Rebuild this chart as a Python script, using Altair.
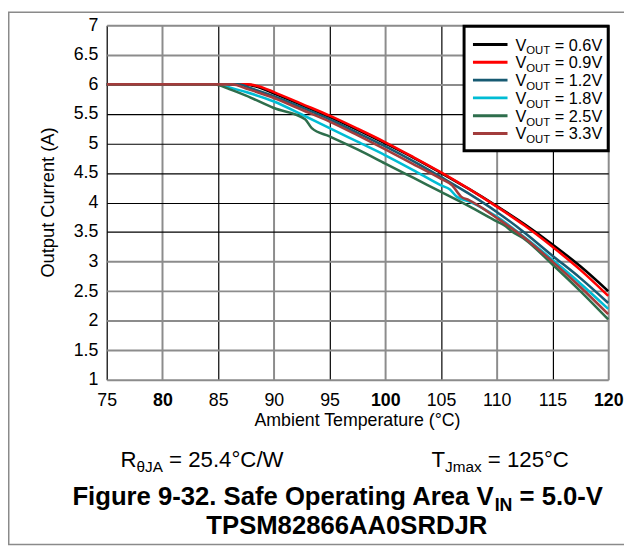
import altair as alt
import pandas as pd

FONT = "Liberation Sans, Arial, sans-serif"

# ---------------- data ----------------
series_labels = ["0.6V", "0.9V", "1.2V", "1.8V", "2.5V", "3.3V"]
series_colors = ["#000000", "#ff0000", "#175a72", "#00bcd4", "#2e6e4c", "#a23c3c"]

temp_06 = [75, 87.4, 88.5, 90, 92.5, 95, 97.5, 100, 102.5, 105, 107.5, 110, 112.5, 115, 117.5, 120]
cur_06 = [6.0, 6.0, 5.96, 5.85, 5.65, 5.45, 5.23, 5.0, 4.76, 4.5, 4.23, 3.94, 3.63, 3.29, 2.92, 2.5]

temp_09 = [75, 87.6, 88.6, 90, 92.5, 95, 97.5, 100, 102.5, 105, 107.5, 110, 112.5, 115, 117.5, 120]
cur_09 = [6.0, 6.0, 5.97, 5.87, 5.67, 5.47, 5.25, 5.02, 4.77, 4.51, 4.23, 3.93, 3.61, 3.25, 2.86, 2.42]

temp_12 = [75, 86.8, 88, 90, 92.5, 95, 97.5, 100, 102.5, 105, 107.5, 110, 112.5, 115, 117.5, 120]
cur_12 = [6.0, 6.0, 5.93, 5.8, 5.61, 5.41, 5.18, 4.95, 4.7, 4.43, 4.15, 3.84, 3.49, 3.1, 2.72, 2.3]

temp_18 = [75, 85, 86, 87.5, 90, 92.5, 95, 97.5, 100, 102.5, 105, 105.8, 106.4, 107.5, 110, 112.5, 115, 117.5, 120]
cur_18 = [6.0, 6.0, 5.95, 5.87, 5.71, 5.49, 5.26, 5.03, 4.8, 4.55, 4.29, 4.22, 4.1, 4.02, 3.76, 3.41, 3.03, 2.63, 2.2]

temp_25 = [75, 84.7, 86, 87.5, 90, 92.8, 93.4, 95, 97.5, 100, 102.5, 105, 107.5, 110, 110.8, 111.3, 112.5, 115, 117.5, 120]
cur_25 = [6.0, 6.0, 5.92, 5.81, 5.6, 5.41, 5.26, 5.12, 4.9, 4.66, 4.42, 4.18, 3.94, 3.68, 3.6, 3.52, 3.38, 2.95, 2.5, 2.02]

temp_33 = [75, 86.3, 87.5, 90, 92.5, 95, 97.5, 100, 102.5, 105, 106.0, 106.8, 107.5, 110, 112.5, 115, 117.5, 120]
cur_33 = [6.0, 6.0, 5.93, 5.77, 5.57, 5.37, 5.14, 4.9, 4.65, 4.4, 4.29, 4.1, 4.04, 3.74, 3.4, 3.0, 2.57, 2.11]

x_ticks = [75, 80, 85, 90, 95, 100, 105, 110, 115, 120]
y_ticks = [1, 1.5, 2, 2.5, 3, 3.5, 4, 4.5, 5, 5.5, 6, 6.5, 7]

temps = [temp_06, temp_09, temp_12, temp_18, temp_25, temp_33]
currents = [cur_06, cur_09, cur_12, cur_18, cur_25, cur_33]

# ---------------- layout helpers ----------------
LEFT, TOP, RIGHT, BOTTOM = 108, 22, 616, 381  # page position of plot area
W, H = RIGHT - LEFT, BOTTOM - TOP


def P(xpage):
    return xpage - LEFT


def Q(ypage):
    return ypage - TOP


REG = {' ': 278, '=': 584, '.': 278, '°': 400, 'C': 722, '/': 278, 'W': 944, 'V': 667,
       'O': 778, 'U': 722, 'T': 611, 'R': 722, 'θ': 556, 'J': 500, 'A': 667, 'm': 833,
       'a': 556, 'x': 500, '-': 333}
BOLD = {'F': 611, 'i': 278, 'g': 611, 'u': 611, 'r': 389, 'e': 556, ' ': 278, '-': 333,
        '.': 278, 'S': 667, 'a': 556, 'f': 333, 'O': 778, 'p': 611, 't': 333, 'n': 611,
        'A': 722, 'V': 667, 'I': 278, 'N': 722, '=': 584}


def tw(s, size, bold=False):
    table = BOLD if bold else REG
    return sum((556 if c.isdigit() else table.get(c, 556)) for c in s) * size / 1000.0


one = pd.DataFrame({"k": [0]})


def rich(segs, x0, y0, bold=False, center=False):
    total = sum(tw(t, s, bold) for t, s, _ in segs)
    x = x0 - total / 2 if center else x0
    out = []
    for text, size, dy in segs:
        if text.startswith(" "):
            x += tw(" ", size, bold)
            text = text[1:]
        out.append(
            alt.Chart(one).mark_text(
                text=text, font=FONT, fontSize=size,
                fontWeight="bold" if bold else "normal",
                align="left", baseline="alphabetic", color="black"
            ).encode(x=alt.value(x), y=alt.value(y0 + dy))
        )
        x += tw(text, size, bold)
    return out


# ---------------- encodings ----------------
x_enc = alt.X(
    "t:Q",
    scale=alt.Scale(domain=[75, 120], nice=False, zero=False),
    axis=alt.Axis(
        values=x_ticks, title=None, ticks=False, domain=False, grid=True,
        gridColor={"condition": {"test": "datum.value % 10 === 0", "value": "#8c8c8c"}, "value": "#000000"},
        gridWidth={"condition": {"test": "datum.value % 10 === 0", "value": 2}, "value": 1.2},
        labelFont=FONT, labelFontSize=18, labelColor="black", labelPadding=12,
        labelFontWeight={"condition": {"test": "datum.value % 20 === 0", "value": "bold"}, "value": "normal"},
        labelFlush=False, labelOverlap=False,
    ),
)
y_enc = alt.Y(
    "i:Q",
    scale=alt.Scale(domain=[1, 7], nice=False, zero=False),
    axis=alt.Axis(
        values=y_ticks, title=None, ticks=False, domain=False, grid=True, format=".1~f",
        gridColor={"condition": {"test": "datum.value >= 6 || datum.value <= 3", "value": "#8c8c8c"}, "value": "#000000"},
        gridWidth={"condition": {"test": "datum.value >= 6 || datum.value <= 3", "value": 2}, "value": 1.2},
        labelFont=FONT, labelFontSize=18, labelColor="black", labelPadding=9,
        labelFlush=False, labelOverlap=False,
    ),
)

layers = []

# outer figure frame
layers.append(
    alt.Chart(one).mark_rect(fill=None, stroke="#8a8a8a", strokeWidth=1.5).encode(
        x=alt.value(P(8.75)), x2=alt.value(P(640)), y=alt.value(Q(8.75)), y2=alt.value(Q(548))
    )
)

# curves
for lab, col, ts, cs in zip(series_labels, series_colors, temps, currents):
    df = pd.DataFrame({"t": ts, "i": cs, "s": lab})
    layers.append(
        alt.Chart(df).mark_line(color=col, strokeWidth=2.6, interpolate="monotone").encode(
            x=x_enc, y=y_enc
        )
    )

# legend box
layers.append(
    alt.Chart(one).mark_rect(fill="white", stroke="black", strokeWidth=3).encode(
        x=alt.value(P(470)), x2=alt.value(P(RIGHT)), y=alt.value(Q(23)), y2=alt.value(Q(149))
    )
)
for k, (lab, col) in enumerate(zip(series_labels, series_colors)):
    yrow = Q(41.5 + 18.0 * k)
    layers.append(
        alt.Chart(one).mark_rule(color=col, strokeWidth=3).encode(
            x=alt.value(P(479)), x2=alt.value(P(514)), y=alt.value(yrow)
        )
    )
    layers += rich([("V", 16.5, 0), ("OUT", 11.5, 4), (" = " + lab, 16.5, 0)], P(522), yrow + 6)

# axis titles
layers.append(
    alt.Chart(one).mark_text(
        text="Output Current (A)", font=FONT, fontSize=18.5, angle=270,
        align="center", baseline="middle", color="black"
    ).encode(x=alt.value(P(49)), y=alt.value(H / 2))
)
layers.append(
    alt.Chart(one).mark_text(
        text="Ambient Temperature (°C)", font=FONT, fontSize=18,
        align="center", baseline="alphabetic", color="black"
    ).encode(x=alt.value(W / 2), y=alt.value(Q(428)))
)

# annotations
layers += rich([("R", 22.5, 0), ("θJA", 15.5, 5), (" = 25.4°C/W", 22.5, 0)], P(122), Q(469))
layers += rich([("T", 22.5, 0), ("Jmax", 15.5, 5), (" = 125°C", 22.5, 0)], P(437), Q(469))

# caption
layers += rich([("Figure 9-32. Safe Operating Area V", 26, 0), ("IN", 18, 6), (" = 5.0-V", 26, 0)],
               P(342), Q(508), bold=True, center=True)
layers += rich([("TPSM82866AA0SRDJR", 26, 0)], P(339), Q(537), bold=True, center=True)

chart = alt.layer(*layers).properties(
    width=W, height=H,
    padding={"left": LEFT - 8, "top": TOP - 8, "right": 632 - LEFT - W, "bottom": 547 - (TOP - 8) - H},
    autosize=alt.AutoSizeParams(type="none"),
).configure_view(stroke="black", strokeWidth=3).configure(background="white")

chart.save("out.html", embed_options={"renderer": "svg", "actions": False})
